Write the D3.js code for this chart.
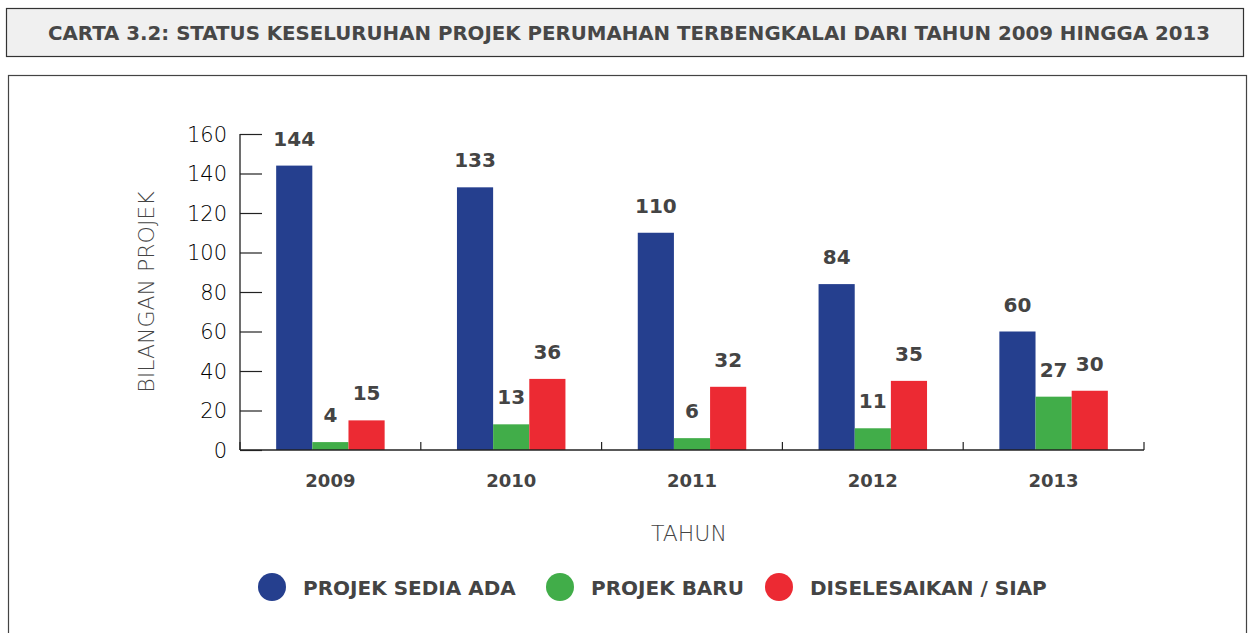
<!DOCTYPE html>
<html>
<head>
<meta charset="utf-8">
<script src="https://cdn.jsdelivr.net/npm/d3@7"></script>
<style>
  body { margin: 0; background: #fff; }
  svg text { font-family: "DejaVu Sans", sans-serif; }
</style>
</head>
<body>
<svg width="1250" height="633"></svg>
<script>
const years = ["2009", "2010", "2011", "2012", "2013"];
const seriesNames = ["PROJEK SEDIA ADA", "PROJEK BARU", "DISELESAIKAN / SIAP"];
const sediaAda = [144, 133, 110, 84, 60];
const baru = [4, 13, 6, 11, 27];
const siap = [15, 36, 32, 35, 30];
const yTicks = [0, 20, 40, 60, 80, 100, 120, 140, 160];
const colors = ["#253f8e", "#41ad49", "#ec2a33"];

const svg = d3.select("svg");

// title box
svg.append("rect")
  .attr("x", 6.5).attr("y", 8.5)
  .attr("width", 1237).attr("height", 48)
  .attr("fill", "#f0f0f0")
  .attr("stroke", "#333").attr("stroke-width", 1.2);

svg.append("text")
  .attr("x", 629).attr("y", 40)
  .attr("text-anchor", "middle")
  .attr("font-size", 19).attr("font-weight", "bold")
  .attr("fill", "#474747")
  .attr("textLength", 1162).attr("lengthAdjust", "spacingAndGlyphs")
  .text("CARTA 3.2: STATUS KESELURUHAN PROJEK PERUMAHAN TERBENGKALAI DARI TAHUN 2009 HINGGA 2013");

// chart frame
svg.append("rect")
  .attr("x", 8.5).attr("y", 75.5)
  .attr("width", 1238).attr("height", 600)
  .attr("fill", "#fff")
  .attr("stroke", "#444").attr("stroke-width", 1.2);

const table = years.map((y, i) => ({ year: y, values: [sediaAda[i], baru[i], siap[i]] }));

const x = d3.scaleBand().domain(years).range([240, 1144]).paddingInner(0).paddingOuter(0);
const xInner = d3.scaleBand().domain([0, 1, 2]).range([0, x.bandwidth()]).paddingOuter(1).paddingInner(0);
const y = d3.scaleLinear().domain([0, 160]).range([450, 134]);

// y axis
const yAxis = svg.append("g")
  .attr("transform", "translate(240,0)")
  .call(d3.axisRight(y).tickValues(yTicks).tickSize(22).tickFormat(""));
yAxis.select(".domain").attr("stroke", "#6e6e6e").attr("stroke-width", 2)
  .attr("d", "M0,450V134");
yAxis.selectAll(".tick line").attr("stroke", "#222").attr("stroke-width", 1.2);

svg.append("g").selectAll("text")
  .data(yTicks).join("text")
  .attr("x", 227).attr("y", d => y(d) + 7.5)
  .attr("text-anchor", "end")
  .attr("font-size", 21).attr("font-weight", 200).attr("fill", "#000")
  .text(d => d);

// bars
const groups = svg.append("g").selectAll("g")
  .data(table).join("g")
  .attr("transform", d => `translate(${x(d.year)},0)`);

groups.selectAll("rect")
  .data(d => d.values.map((v, k) => ({ v, k })))
  .join("rect")
  .attr("x", d => xInner(d.k))
  .attr("width", xInner.bandwidth())
  .attr("y", d => y(d.v))
  .attr("height", d => y(0) - y(d.v))
  .attr("fill", d => colors[d.k]);

groups.selectAll("text")
  .data(d => d.values.map((v, k) => ({ v, k })))
  .join("text")
  .attr("x", d => xInner(d.k) + xInner.bandwidth() / 2)
  .attr("y", d => y(d.v) - 20)
  .attr("text-anchor", "middle")
  .attr("font-size", 20).attr("font-weight", "bold")
  .attr("fill", "#444")
  .text(d => d.v);

// x axis
const xAxis = svg.append("g")
  .attr("transform", "translate(0,450)")
  .call(d3.axisBottom(x).tickSize(0).tickFormat(""));
xAxis.select(".domain").attr("stroke", "#222").attr("stroke-width", 1.5).attr("d", "M240,0H1144");

svg.append("g").selectAll("line")
  .data(d3.range(years.length + 1)).join("line")
  .attr("x1", i => 240 + i * x.bandwidth()).attr("x2", i => 240 + i * x.bandwidth())
  .attr("y1", 450).attr("y2", 442)
  .attr("stroke", "#222").attr("stroke-width", 1.2);

svg.append("g").selectAll("text")
  .data(years).join("text")
  .attr("x", d => x(d) + x.bandwidth() / 2)
  .attr("y", 487)
  .attr("text-anchor", "middle")
  .attr("font-size", 18).attr("font-weight", "bold")
  .attr("fill", "#444")
  .text(d => d);

// axis titles
svg.append("text")
  .attr("x", 689).attr("y", 541)
  .attr("text-anchor", "middle")
  .attr("font-size", 22).attr("font-weight", 200).attr("fill", "#444")
  .text("TAHUN");

svg.append("text")
  .attr("transform", "translate(154,292) rotate(-90)")
  .attr("text-anchor", "middle")
  .attr("font-size", 22).attr("font-weight", 200).attr("fill", "#444")
  .text("BILANGAN PROJEK");

// legend
const legendX = [272, 560, 779];
const legend = svg.append("g").selectAll("g")
  .data(seriesNames).join("g")
  .attr("transform", (d, i) => `translate(${legendX[i]},587)`);
legend.append("circle").attr("r", 14).attr("fill", (d, i) => colors[i]);
legend.append("text")
  .attr("x", 31).attr("y", 8)
  .attr("font-size", 20).attr("font-weight", "bold")
  .attr("fill", "#444")
  .text(d => d);
</script>
</body>
</html>
